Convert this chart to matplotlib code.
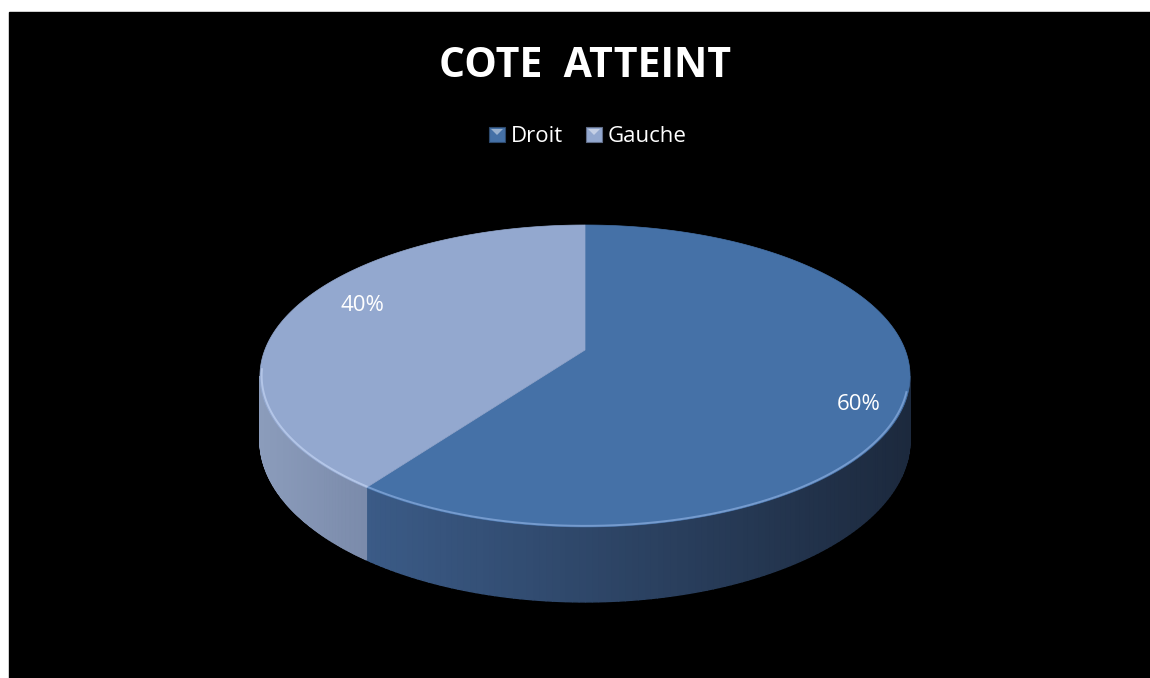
import numpy as np
import matplotlib
matplotlib.use("Agg")
import matplotlib.pyplot as plt
from matplotlib.patches import Polygon, Rectangle
from matplotlib.colors import to_rgb

# data
categories = ['Droit', 'Gauche']
values = [60, 40]
title = 'COTE  ATTEINT'

top_colors = ['#4571a7', '#93a8cf']
rim_colors = ['#7ea3d6', '#b9cbec']
# side wall gradients (left colour, right colour) per slice
side_colors = [('#3b5b87', '#1c293d'), ('#8b9cbb', '#7b8bab')]

W, H = 1150, 678
FONT = 'Open Sans'

# pseudo-perspective projection of a unit disc
cx, cy0 = 585.0, 350.0
k = 0.172
A = 320.2
B = 146.5
D = 62.1


def project(theta, r=1.0, drop=False):
    u = r * np.sin(theta)
    v = r * np.cos(theta)
    w = 1 + k * v
    x = cx + A * u / w
    y = cy0 - B * v / w
    if drop:
        y = y + D / w
    return x, y


def mix(c1, c2, t):
    a, b = np.array(to_rgb(c1)), np.array(to_rgb(c2))
    return tuple(a + (b - a) * t)


fig = plt.figure(figsize=(W / 100, H / 100), dpi=100, facecolor='white')
ax = fig.add_axes([0, 0, 1, 1])
ax.set_xlim(0, W)
ax.set_ylim(H, 0)
ax.axis('off')
ax.add_patch(Rectangle((9, 12), W, H, color='black', zorder=0))

fracs = np.array(values) / np.sum(values)
starts = np.concatenate([[0], np.cumsum(fracs)[:-1]]) * 2 * np.pi
ends = np.cumsum(fracs) * 2 * np.pi

# side walls, only the part facing the viewer
vis_lo = np.pi - np.arccos(k)
vis_hi = np.pi + np.arccos(k)
for i in range(len(values)):
    a0, a1 = max(starts[i], vis_lo), min(ends[i], vis_hi)
    if a1 <= a0:
        continue
    th = np.linspace(a0, a1, 120)
    xs, ys = project(th)
    xb, yb = project(th, drop=True)
    xmin, xmax = xs.min(), xs.max()
    for j in range(len(th) - 1):
        xm = 0.5 * (xs[j] + xs[j + 1])
        t = (xm - xmin) / max(xmax - xmin, 1)
        poly = [(xs[j], ys[j]), (xs[j + 1], ys[j + 1]),
                (xb[j + 1], yb[j + 1]), (xb[j], yb[j])]
        c = mix(side_colors[i][0], side_colors[i][1], t)
        ax.add_patch(Polygon(poly, closed=True, facecolor=c,
                             edgecolor=c, lw=1.0, zorder=1))

# top faces
for i in range(len(values)):
    th = np.linspace(starts[i], ends[i], 300)
    xs, ys = project(th)
    pts = [(cx, cy0)] + list(zip(xs, ys))
    ax.add_patch(Polygon(pts, closed=True, facecolor=top_colors[i],
                         edgecolor=top_colors[i], lw=0.5, zorder=2))
    # light bevel along the front rim
    a0, a1 = max(starts[i], vis_lo + 0.1), min(ends[i], vis_hi + 0.05)
    if a1 > a0:
        tr = np.linspace(a0, a1, 200)
        rx, ry = project(tr, r=0.995)
        ax.plot(rx, ry, color=rim_colors[i], lw=1.4, alpha=0.85,
                solid_capstyle='butt', zorder=3)

# percentage labels
label_r = [0.875, 0.80]
for i in range(len(values)):
    mid = 0.5 * (starts[i] + ends[i]) + np.deg2rad(5.5)
    lx, ly = project(mid, r=label_r[i])
    ax.text(lx, ly, f'{values[i]:.0f}%', color='white', fontsize=16,
            family=FONT, ha='center', va='center', zorder=4)

# title
ax.text(585, 77, title, color='white', fontsize=29.5, fontweight='bold',
        family=FONT, ha='center', va='baseline', zorder=4)

# legend
leg_x = [489, 586]
for i, name in enumerate(categories):
    x0 = leg_x[i]
    ax.add_patch(Rectangle((x0, 127), 16, 15, facecolor=top_colors[i],
                           edgecolor=mix(top_colors[i], '#000000', 0.35),
                           lw=0.8, zorder=4))
    ax.add_patch(Polygon([(x0 + 2, 129), (x0 + 14, 129), (x0 + 8, 135)],
                         closed=True, facecolor=mix(top_colors[i], '#ffffff', 0.45),
                         edgecolor='none', zorder=5))
    ax.text(x0 + 22, 142, name, color='white', fontsize=16, family=FONT,
            ha='left', va='baseline', zorder=4)

fig.savefig('out.png', dpi=100, facecolor='white')
